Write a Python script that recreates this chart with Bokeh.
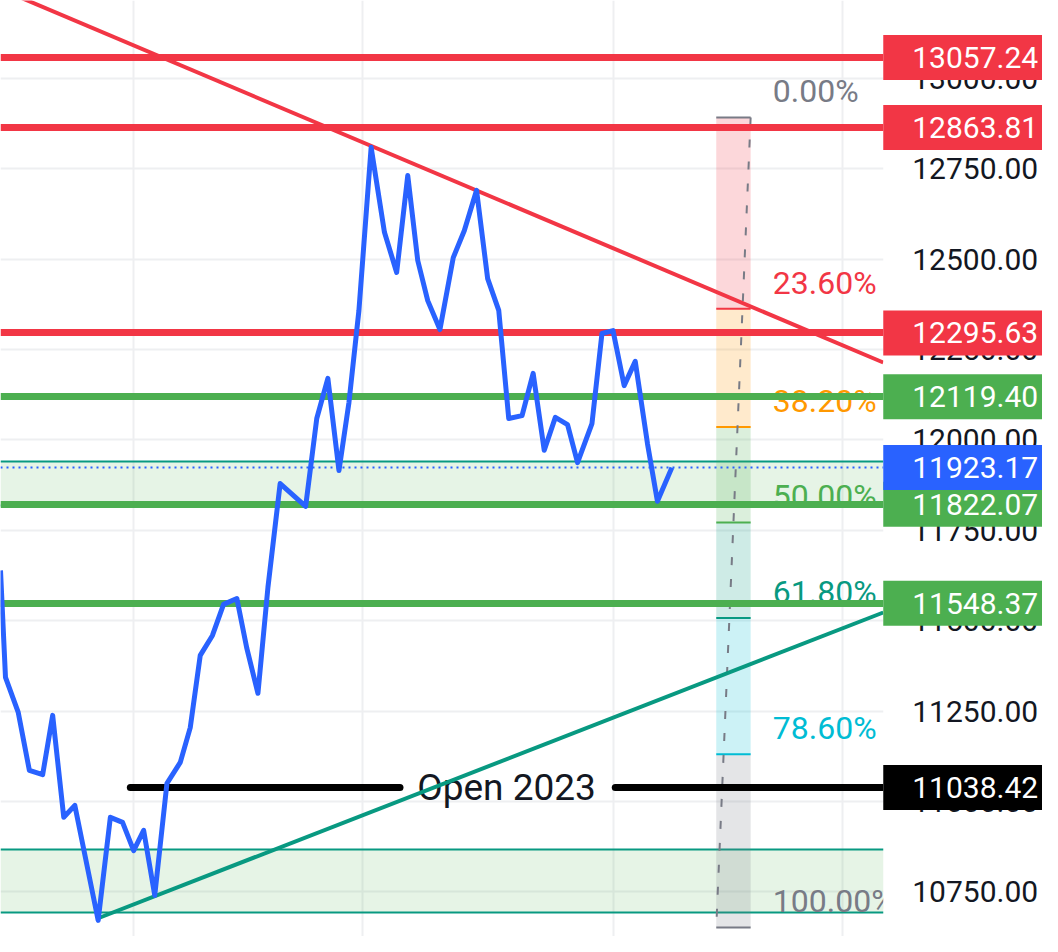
from bokeh.plotting import figure
from bokeh.models import Range1d, FixedTicker, NumeralTickFormatter, Label, LinearAxis
from bokeh.core.properties import value
from bokeh.embed import file_html
from bokeh.resources import INLINE

# ---- data ----
bar_t = [0.0, 0.45, 1.6, 2.6, 3.8, 4.7, 5.7, 6.7, 8.8, 9.9, 11.0, 12.0, 12.9, 13.9, 15.0,
         16.2, 17.1, 18.0, 19.1, 20.1, 21.3, 22.2, 23.2, 24.1, 25.2, 27.5, 28.5, 29.5, 30.5,
         31.4, 32.3, 33.4, 34.6, 35.7, 36.7, 37.6, 38.5, 39.6, 40.8, 41.8, 42.9, 43.9, 44.9,
         45.8, 47.0, 48.0, 49.0, 50.0, 51.1, 52.0, 53.3, 54.2, 55.2, 56.2, 57.2, 58.3, 59.2, 60.5]
close = [11639, 11343, 11246, 11086, 11074, 11238, 10956, 10989, 10671, 10956, 10942, 10864,
         10920, 10740, 11050, 11108, 11204, 11404, 11459, 11545, 11561, 11423, 11299, 11592,
         11879, 11816, 12059, 12170, 11915, 12103, 12358, 12809, 12574, 12463, 12731, 12496,
         12385, 12305, 12504, 12579, 12690, 12446, 12358, 12059, 12067, 12184, 11971, 12062,
         12042, 11937, 12045, 12294, 12302, 12150, 12217, 11990, 11830, 11923.17]

level_prices = [13057.24, 12863.81, 12295.63, 12119.40, 11822.07, 11548.37]
level_colors = ["#f23645", "#f23645", "#f23645", "#4caf50", "#4caf50", "#4caf50"]
last_price = 11923.17
open_2023 = 11038.42
open_label = "Open 2023"

zone_bottom = [11818.4, 10692.8]
zone_top = [11940.1, 10867.0]

res_t = [0.0, 79.55]
res_p = [13246.6, 12213.9]
sup_t = [8.74, 79.55]
sup_p = [10676.2, 11522.5]

fib_high = 12891.5
fib_low = 10651.3
fib_ratios = [0.0, 0.236, 0.382, 0.5, 0.618, 0.786, 1.0]
fib_labels = ["0.00%", "23.60%", "38.20%", "50.00%", "61.80%", "78.60%", "100.00%"]
fib_colors = ["#787b86", "#f23645", "#ff9800", "#4caf50", "#089981", "#00bcd4", "#787b86"]
fib_t = [64.5, 67.6]

grid_t = [12.0, 32.6, 55.2, 75.9]
price_ticks = [10750, 11000, 11250, 11500, 11750, 12000, 12250, 12500, 12750, 13000]

# ---- layout constants ----
X0, XE, X1 = 0.0, 79.55, 93.9      # chart area ends at XE, price scale beyond
Y0, Y1 = 10626.4, 13215.06
FONT = "Roboto"

p = figure(width=1042, height=936, x_range=Range1d(X0, X1), y_range=Range1d(Y0, Y1),
           x_axis_location=None, y_axis_location=None, toolbar_location=None,
           output_backend="svg", min_border_left=0, min_border_top=0,
           min_border_bottom=0, min_border_right=0)
p.outline_line_color = None
p.background_fill_color = "white"
p.border_fill_color = "white"

p.ygrid.ticker = FixedTicker(ticks=price_ticks)
p.xgrid.ticker = FixedTicker(ticks=grid_t)
for g in (p.xgrid, p.ygrid):
    g.grid_line_color = "#eeeff1"
    g.grid_line_width = 2

# zones
p.hstrip(y0=zone_bottom, y1=zone_top, fill_color="#4caf50", fill_alpha=0.14, line_color=None)
p.hspan(y=zone_bottom + zone_top, line_color="#089981", line_width=2)

# fib retracement
fib_prices = [fib_high - r * (fib_high - fib_low) for r in fib_ratios]
p.quad(left=fib_t[0], right=fib_t[1], top=fib_prices[:-1], bottom=fib_prices[1:],
       fill_color=fib_colors[1:], fill_alpha=0.2, line_color=None)
p.segment(x0=fib_t[0], x1=fib_t[1], y0=fib_prices, y1=fib_prices,
          line_color=fib_colors, line_width=2)
p.line([fib_t[1], fib_t[0]], [fib_high, fib_low], line_color="#787b86",
       line_width=2, line_dash="8 14")
p.text(x=69.6, y=fib_prices, text=fib_labels, text_color=fib_colors,
       text_font=value(FONT), text_font_size="32px", text_baseline="alphabetic",
       text_align="left", y_offset=-26)

# last price dotted line
p.hspan(y=[last_price], line_color="#2962ff", line_width=2, line_dash="2 4")

# horizontal levels
p.hspan(y=level_prices, line_color=level_colors, line_width=7)

# open 2023 line
p.segment(x0=[11.7, 55.4], x1=[36.0, XE + 2], y0=[open_2023] * 2, y1=[open_2023] * 2,
          line_color="black", line_width=7, line_cap="round")
p.text(x=[45.6], y=[open_2023], text=[open_label], text_color="#131722",
       text_font=value(FONT), text_font_size="37px", text_baseline="middle",
       text_align="center")

# trendlines
p.line(res_t, res_p, line_color="#f23645", line_width=4)
p.line(sup_t, sup_p, line_color="#089981", line_width=4)

# price line
p.line(bar_t, close, line_color="#2962ff", line_width=5, line_join="round")

# price scale background (covers the right part of the frame)
p.quad(left=[XE], right=[X1 + 5], bottom=[Y0 - 500], top=[Y1 + 500],
       fill_color="white", line_color=None)

# price scale axis, drawn at the edge of the chart area
ax = LinearAxis(fixed_location=XE)
ax.ticker = FixedTicker(ticks=price_ticks)
ax.formatter = NumeralTickFormatter(format="0.00")
ax.major_label_text_font = FONT
ax.major_label_text_font_size = "30px"
ax.major_label_text_color = "#131722"
ax.major_tick_line_color = None
ax.minor_tick_line_color = None
ax.major_tick_out = 0
ax.major_tick_in = 0
ax.axis_line_color = None
ax.major_label_standoff = 29
p.add_layout(ax, "right")

# price tags on the scale
tags = [(v, c) for v, c in zip(level_prices, level_colors)]
tags += [(last_price, "#2962ff"), (open_2023, "#000000")]
for v, c in tags:
    p.add_layout(Label(x=XE, y=v, text=f"{v:.2f}", text_color="white",
                       text_font=FONT, text_font_size="30px", text_baseline="middle",
                       text_align="left", background_fill_color=c,
                       padding=dict(left=29, right=8, top=12, bottom=12)))

open("out.html", "w").write(file_html(p, INLINE))
